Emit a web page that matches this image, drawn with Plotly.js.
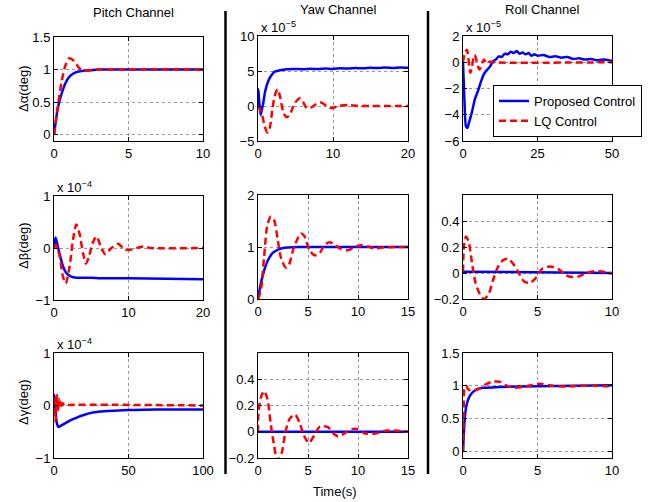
<!DOCTYPE html>
<html><head><meta charset="utf-8">
<script src="https://cdn.plot.ly/plotly-3.0.1.min.js"></script>
<style>html,body{margin:0;padding:0;background:#fff}#chart{width:651px;height:502px}</style>
</head><body><div id="chart"></div>
<script>
// ---- Data (time in s; values in the displayed axis units, exponent noted per panel) ----
// Pitch channel, delta alpha (deg)
const pitchAlphaT_prop = [0,0.25,0.5,0.75,1,1.25,1.5,2,2.5,3,4,6,10];
const pitchAlpha_prop  = [0,0.4,0.62,0.78,0.88,0.93,0.96,0.98,0.99,1.0,1.0,1.0,1.0];
const pitchAlphaT_lq   = [0,0.25,0.5,0.75,1,1.25,1.5,1.75,2,2.5,3,4,10];
const pitchAlpha_lq    = [0,0.42,0.8,1.05,1.17,1.15,1.08,1.01,0.98,0.99,1.0,1.0,1.0];
// Yaw channel, delta alpha (x1e-5 deg)
const yawAlphaT_prop = [0,0.05,0.15,0.35,0.5,0.7,0.9,1.1,1.35,1.6,1.8,2.2,2.9,3.8,5,6,7,8,9,10,11,12,13,14,15,16,17,18,19,20];
const yawAlpha_prop  = [0,2.4,0.8,-1.3,-0.6,0.4,1.8,2.7,3.5,4.1,4.4,4.9,5.1,5.25,5.3,5.25,5.32,5.28,5.35,5.3,5.4,5.35,5.42,5.38,5.46,5.42,5.5,5.44,5.5,5.45];
const yawAlphaT_lq   = [0,0.3,0.55,0.9,1.25,1.55,1.9,2.2,2.6,2.95,3.35,3.8,4.2,4.9,5.6,6.0,6.5,7.1,7.8,8.4,9.15,9.8,10.7,12,13.4,15,20];
const yawAlpha_lq    = [0,-0.6,-1.3,-2.9,-3.8,-3.2,-0.6,1.3,2.4,1.3,-0.8,-1.6,-1.3,0.4,1.1,0.6,-0.3,-0.2,0.3,0.5,0,-0.3,0,0.14,0,0,0];
// Roll channel, delta alpha (x1e-5 deg)
const rollAlphaT_prop = [0,0.5,1,1.5,2,3,4,5,6,7,8,9,10,11,12,13,14,15,16,17,18,19,20,21,22,23,24,25,27,29,31,33,35,37,39,41,43,45,47,50];
const rollAlpha_prop  = [0,-3,-4.9,-5.0,-4.6,-3.8,-2.8,-2.2,-1.5,-0.9,-0.6,-0.35,0.05,0.2,0.45,0.4,0.65,0.6,0.8,0.7,0.85,0.65,0.75,0.6,0.7,0.5,0.6,0.5,0.55,0.4,0.45,0.35,0.4,0.25,0.3,0.2,0.25,0.15,0.2,0.1];
const rollAlphaT_lq   = [0,0.5,1.3,2.5,3.9,5.5,7,8,9,10,50];
const rollAlpha_lq    = [0,0.6,0.95,-0.8,0.55,-0.55,0.2,-0.1,0.05,0,0];
// Pitch channel, delta beta (x1e-4 deg)
const pitchBetaT_prop = [0,0.2,0.4,0.76,1.2,1.65,2.3,3,4,6,10,15,20];
const pitchBeta_prop  = [0,0.2,0.1,-0.12,-0.35,-0.48,-0.55,-0.57,-0.57,-0.58,-0.58,-0.59,-0.6];
const pitchBetaT_lq   = [0,0.3,0.76,1.2,1.57,2.1,2.55,3.0,3.4,3.9,4.3,4.7,5.2,5.7,6.35,6.9,7.7,8.6,9.5,10.4,11.9,13,20];
const pitchBeta_lq    = [0,0.06,-0.16,-0.55,-0.68,-0.35,0.16,0.45,0.29,-0.1,-0.3,-0.16,0.1,0.22,0,-0.12,0,0.08,-0.03,-0.03,0.03,0,0];
// Yaw channel, delta beta (deg)
const yawBetaT_prop = [0,0.25,0.5,0.75,1,1.5,2,2.5,3,4,6,15];
const yawBeta_prop  = [0,0.27,0.47,0.63,0.75,0.89,0.95,0.98,0.99,1,1,1];
const yawBetaT_lq   = [0,0.27,0.6,0.94,1.28,1.6,1.95,2.3,2.8,3.1,3.6,4.3,4.6,5.15,5.65,6.15,6.66,7.16,7.67,8.3,9,9.7,10.4,11,11.7,12.4,13.7,15];
const yawBeta_lq    = [0,0.15,0.79,1.42,1.58,1.52,1.17,0.79,0.6,0.66,1.0,1.26,1.22,0.94,0.84,0.88,1.04,1.09,1.04,0.96,0.94,1.0,1.04,1.01,0.97,0.99,1.0,1.0];
// Roll channel, delta beta (deg)
const rollBetaT_prop = [0,10];
const rollBeta_prop  = [0.01,0.0];
const rollBetaT_lq   = [0,0.07,0.2,0.38,0.6,0.83,1.12,1.4,1.73,2.0,2.36,2.7,3.0,3.37,3.7,4.1,4.5,4.83,5.3,5.84,6.4,6.85,7.3,7.75,8.2,8.76,9.2,9.66,10];
const rollBeta_lq    = [0.01,0.21,0.28,0.24,0.08,-0.07,-0.16,-0.2,-0.16,-0.06,0.05,0.1,0.11,0.07,0.01,-0.065,-0.075,-0.045,0.03,0.05,0.03,-0.013,-0.03,-0.026,-0.005,0.013,0.013,0.003,-0.005];
// Pitch channel, delta gamma (x1e-4 deg)
const pitchGammaT_prop = [0,0.3,1,2,3,5,8,12,16,20,25,30,40,50,60,75,100];
const pitchGamma_prop  = [0,0.2,-0.1,-0.35,-0.41,-0.38,-0.33,-0.27,-0.22,-0.18,-0.14,-0.12,-0.1,-0.085,-0.08,-0.076,-0.075];
const pitchGammaT_lq   = [0,0.5,1,1.5,2,2.7,3.5,4.5,5.5,7,10,100];
const pitchGamma_lq    = [0,0.18,-0.3,-0.1,0.2,-0.1,0.12,-0.05,0.05,0,0.01,0];
// Yaw channel, delta gamma (deg)
const yawGammaT_prop = [0,15];
const yawGamma_prop  = [0,0];
const yawGammaT_lq   = [0,0.05,0.33,0.6,0.94,1.27,1.6,1.94,2.34,2.75,3.18,3.7,4.2,4.6,5.1,5.6,6.2,7,7.5,8,8.7,9.4,10,10.7,11.7,12.7,13.7,15];
const yawGamma_lq    = [0,0.15,0.27,0.31,0.25,0.06,-0.1,-0.22,-0.17,0,0.1,0.13,0.06,-0.03,-0.085,-0.03,0.04,0.035,-0.01,-0.035,-0.01,0.02,0.02,-0.013,-0.013,0.008,0.01,0];
// Roll channel, delta gamma (deg)
const rollGammaT_prop = [0,0.11,0.22,0.38,0.6,0.94,1.4,2.4,5,10];
const rollGamma_prop  = [0,0.48,0.69,0.81,0.89,0.95,0.97,0.98,0.995,1.01];
const rollGammaT_lq   = [0,0.05,0.1,0.2,0.38,0.7,1.05,1.5,1.95,2.5,2.95,3.5,4.2,5.1,6,6.9,7.8,9.1,10];
const rollGamma_lq    = [0,0.53,0.97,1.0,0.94,0.93,0.95,1.02,1.06,1.06,1.0,0.97,0.99,1.03,1.0,0.99,1.0,1.0,0.99];

const seriesNames = ['Proposed Control','LQ Control'];
const columnTitles = ['Pitch Channel','Yaw Channel','Roll Channel'];
const rowLabels = ['\u0394\u03b1(deg)','\u0394\u03b2(deg)','\u0394\u03b3(deg)'];
const xLabel = 'Time(s)';

// ---- Panel configuration ----
const W = 651, H = 502;
const panels = [
  {tp:pitchAlphaT_prop, yp:pitchAlpha_prop, tl:pitchAlphaT_lq, yl:pitchAlpha_lq, xr:[0,10], xt:[0,5,10], yr:[-0.1,1.5], yt:[0,0.5,1,1.5], px:[54,203], py:[37,141], exp:null},
  {tp:yawAlphaT_prop, yp:yawAlpha_prop, tl:yawAlphaT_lq, yl:yawAlpha_lq, xr:[0,20], xt:[0,10,20], yr:[-5,10], yt:[-5,0,5,10], px:[258,408], py:[36,141], exp:'\u22125'},
  {tp:rollAlphaT_prop, yp:rollAlpha_prop, tl:rollAlphaT_lq, yl:rollAlpha_lq, xr:[0,50], xt:[0,25,50], yr:[-6,2], yt:[-6,-4,-2,0,2], px:[463,612], py:[36,141], exp:'\u22125'},
  {tp:pitchBetaT_prop, yp:pitchBeta_prop, tl:pitchBetaT_lq, yl:pitchBeta_lq, xr:[0,20], xt:[0,10,20], yr:[-1,1], yt:[-1,0,1], px:[54,203], py:[196,300], exp:'\u22124'},
  {tp:yawBetaT_prop, yp:yawBeta_prop, tl:yawBetaT_lq, yl:yawBeta_lq, xr:[0,15], xt:[0,5,10,15], yr:[0,2], yt:[0,1,2], px:[258,408], py:[195,299], exp:null},
  {tp:rollBetaT_prop, yp:rollBeta_prop, tl:rollBetaT_lq, yl:rollBeta_lq, xr:[0,10], xt:[0,5,10], yr:[-0.2,0.6], yt:[-0.2,0,0.2,0.4], px:[463,612], py:[195,299], exp:null},
  {tp:pitchGammaT_prop, yp:pitchGamma_prop, tl:pitchGammaT_lq, yl:pitchGamma_lq, xr:[0,100], xt:[0,50,100], yr:[-1,1], yt:[-1,0,1], px:[54,203], py:[353,458], exp:'\u22124'},
  {tp:yawGammaT_prop, yp:yawGamma_prop, tl:yawGammaT_lq, yl:yawGamma_lq, xr:[0,15], xt:[0,5,10,15], yr:[-0.2,0.6], yt:[-0.2,0,0.2,0.4], px:[258,408], py:[353,458], exp:null},
  {tp:rollGammaT_prop, yp:rollGamma_prop, tl:rollGammaT_lq, yl:rollGamma_lq, xr:[0,10], xt:[0,5,10], yr:[-0.1,1.5], yt:[0,0.5,1,1.5], px:[463,612], py:[353,458], exp:null}
];

const FONT = 'Liberation Sans, Arial, Helvetica, sans-serif';
const traces = [];
const layout = {
  width: W, height: H,
  margin: {l:0, r:0, t:0, b:0},
  paper_bgcolor: '#fff', plot_bgcolor: '#fff',
  font: {family: FONT, size: 13, color: '#000'},
  showlegend: true,
  legend: {x: 493/W, y: 1-85/H, xanchor:'left', yanchor:'top', bgcolor:'#fff', bordercolor:'#000', borderwidth:1, font:{size:13}, tracegroupgap:0},
  annotations: [], shapes: []
};
panels.forEach((p, i) => {
  const n = i === 0 ? '' : String(i+1);
  const xa = 'x'+n, ya = 'y'+n;
  traces.push({x:p.tp, y:p.yp, xaxis:xa, yaxis:ya, mode:'lines', name:seriesNames[0], showlegend: i===2,
    line:{color:'#0000ff', width:2.5, shape:'spline', smoothing:0.6}});
  traces.push({x:p.tl, y:p.yl, xaxis:xa, yaxis:ya, mode:'lines', name:seriesNames[1], showlegend: i===2,
    line:{color:'#ff0000', width:2.5, dash:'7px,4px', shape:'spline', smoothing:0.8}});
  const common = {showline:true, linecolor:'#000', linewidth:1, mirror:'allticks', ticks:'inside', ticklen:4, tickcolor:'#000',
    showgrid:true, gridcolor:'#999', griddash:'dot', gridwidth:1, zeroline:false, tickmode:'array', tickfont:{size:13, family:FONT}, fixedrange:true};
  layout['xaxis'+n] = Object.assign({}, common, {domain:[p.px[0]/W, p.px[1]/W], anchor:ya, range:p.xr, tickvals:p.xt});
  layout['yaxis'+n] = Object.assign({}, common, {domain:[1-p.py[1]/H, 1-p.py[0]/H], anchor:xa, range:p.yr, tickvals:p.yt});
  if (p.exp) {
    layout.annotations.push({xref:'paper', yref:'paper', x:(p.px[0]+1)/W, y:1-(p.py[0]-9)/H, xanchor:'left', yanchor:'middle',
      text:'x 10<sup>'+p.exp+'</sup>', showarrow:false, font:{size:13}});
  }
});
// column titles
[[133,13],[338,10],[542,10]].forEach((c,i)=>{
  layout.annotations.push({xref:'paper', yref:'paper', x:c[0]/W, y:1-c[1]/H, xanchor:'center', yanchor:'middle', text:columnTitles[i], showarrow:false, font:{size:13}});
});
// row labels
[89,246,402].forEach((yc,i)=>{
  layout.annotations.push({xref:'paper', yref:'paper', x:23/W, y:1-yc/H, xanchor:'center', yanchor:'middle', textangle:-90, text:rowLabels[i], showarrow:false, font:{size:13}});
});
layout.annotations.push({xref:'paper', yref:'paper', x:335/W, y:1-491/H, xanchor:'center', yanchor:'middle', text:xLabel, showarrow:false, font:{size:13}});
// separators
[225.5, 428].forEach(xs=>{
  layout.shapes.push({type:'line', xref:'paper', yref:'paper', x0:xs/W, x1:xs/W, y0:1-11/H, y1:1-474/H, line:{color:'#000', width:2.5}});
});
Plotly.newPlot('chart', traces, layout, {displayModeBar:false, staticPlot:true});
</script></body></html>
